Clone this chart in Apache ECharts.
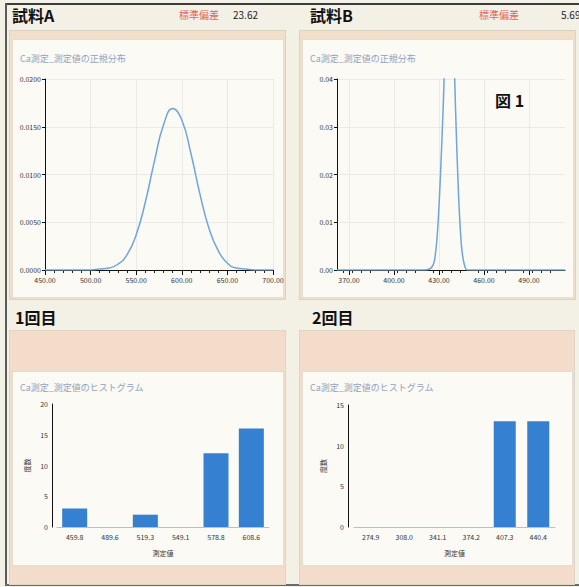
<!DOCTYPE html>
<html><head><meta charset="utf-8">
<script src="https://cdn.jsdelivr.net/npm/echarts@6/dist/echarts.min.js"></script>
<style>
html,body{margin:0;padding:0;width:579px;height:587px;overflow:hidden;background:#f3f0e6;font-family:"Noto Sans CJK JP","Noto Sans",sans-serif;}
.a{position:absolute;}
.hd{position:absolute;font-weight:bold;font-size:16px;color:#111;line-height:16px;white-space:nowrap;}
.sd{position:absolute;font-size:10px;color:#e2605c;line-height:10px;white-space:nowrap;}
.num{position:absolute;font-size:10px;color:#222;line-height:10px;white-space:nowrap;}
#chart{position:absolute;left:0;top:0;width:579px;height:587px;}
</style></head><body>
<!-- page frame -->
<div class="a" style="left:5px;top:3px;width:574px;height:2px;background:#3c3c3c"></div>
<div class="a" style="left:5px;top:3px;width:2px;height:582px;background:#5a5a5a"></div>
<div class="a" style="left:5px;top:584px;width:574px;height:2px;background:#6a6a6a"></div>
<!-- top panels -->
<div class="a" style="left:9px;top:30px;width:275px;height:268px;background:#f1dfca;border:1px solid #d9d3c6"></div>
<div class="a" style="left:12px;top:39px;width:270px;height:257px;background:#fbfaf4;border:1px solid #e2ded4"></div>
<div class="a" style="left:299px;top:30px;width:275px;height:268px;background:#f1dfca;border:1px solid #d9d3c6"></div>
<div class="a" style="left:302px;top:39px;width:270px;height:257px;background:#fbfaf4;border:1px solid #e2ded4"></div>
<!-- bottom panels -->
<div class="a" style="left:9px;top:330px;width:275px;height:253px;background:#f4dccb;border:1px solid #e0d4c6"></div>
<div class="a" style="left:12px;top:371px;width:270px;height:193px;background:#fbfaf4;border:1px solid #e2ded4"></div>
<div class="a" style="left:299px;top:330px;width:274px;height:253px;background:#f4dccb;border:1px solid #e0d4c6"></div>
<div class="a" style="left:302px;top:371px;width:269px;height:193px;background:#fbfaf4;border:1px solid #e2ded4"></div>
<!-- headers -->
<div class="hd" style="left:12px;top:7px">試料A</div>
<div class="sd" style="left:179px;top:10px">標準偏差</div>
<div class="num" style="left:233px;top:10px">23.62</div>
<div class="hd" style="left:310px;top:7px">試料B</div>
<div class="sd" style="left:479px;top:10px">標準偏差</div>
<div class="num" style="left:561px;top:10px">5.69</div>
<div class="hd" style="left:495px;top:92px">図 1</div>
<div class="hd" style="left:15px;top:309px">1回目</div>
<div class="hd" style="left:312px;top:309px">2回目</div>
<div id="chart"></div>
<script>
// ---- data ----
const titleNormal = 'Ca測定_測定値の正規分布';
const titleHist = 'Ca測定_測定値のヒストグラム';
const yNameHist = '度数';
const xNameHist = '測定値';

// Sample A normal curve (x, density)
const curveAx = [450,460,470,480,490,500,510,520,530,540,550,560,570,580,590,600,610,620,630,640,650,660,670,680,690,700];
const curveAy = [0,0,0,0,0,0,0.0001,0.0002,0.0006,0.0016,0.0037,0.0071,0.0114,0.0152,0.0169,0.0157,0.0122,0.0079,0.0043,0.0020,0.0007,0.0002,0.0001,0,0,0];
// Sample B normal curve (x, density)
const curveBx = [362,400,421,425,427,429,431,433,435,437,439,441,443,445,447,449,470,514];
const curveBy = [0,0,0,0.0005,0.002,0.008,0.02,0.036,0.056,0.07,0.056,0.034,0.016,0.005,0.001,0,0,0];
const xTicksB = [370,400,430,460,490];

// Histograms
const catsA = ['459.8','489.6','519.3','549.1','578.8','608.6'];
const countsA = [3,0,2,0,12,16];
const catsB = ['274.9','308.0','341.1','374.2','407.3','440.4'];
const countsB = [0,0,0,0,13,13];

// ---- chart ----
const FONT = '"Noto Sans CJK JP","Noto Sans",sans-serif';
const lbl = {fontSize:7, color:'#333', fontFamily:FONT};
const split = {show:true, lineStyle:{color:'#ebeae4', width:1}};
const blackLine = {show:true, lineStyle:{color:'#111', width:1}};
const chart = echarts.init(document.getElementById('chart'), null, {renderer:'svg'});
const tStyle = {fontSize:9, color:'#93a2b9', fontWeight:'normal', fontFamily:FONT};
const bars = v => v.map(n => n === 0 ? null : n);
chart.setOption({
  animation:false,
  backgroundColor:'transparent',
  title:[
    {text:titleNormal, left:20, top:54, textStyle:tStyle, padding:0},
    {text:titleNormal, left:310, top:54, textStyle:tStyle, padding:0},
    {text:titleHist, left:20, top:383, textStyle:tStyle, padding:0},
    {text:titleHist, left:310, top:383, textStyle:tStyle, padding:0}
  ],
  grid:[
    {left:45, top:79, width:228, height:191},
    {left:337, top:79, width:228, height:191},
    {left:57, top:404, width:212, height:123},
    {left:354, top:405, width:201, height:122}
  ],
  xAxis:[
    {type:'value', gridIndex:0, min:450, max:700, interval:50,
     axisLine:blackLine, axisTick:{show:true, length:5, lineStyle:{color:'#111'}},
     minorTick:{show:true, splitNumber:5, length:3, lineStyle:{color:'#222'}},
     axisLabel:Object.assign({margin:6, formatter:v=>v.toFixed(2)}, lbl), splitLine:split},
    {type:'value', gridIndex:1, min:362, max:514,
     axisLine:blackLine, axisTick:{show:true, length:5, lineStyle:{color:'#111'}, customValues:xTicksB},
     minorTick:{show:true, splitNumber:5, length:3, lineStyle:{color:'#222'}},
     axisLabel:Object.assign({margin:6, customValues:xTicksB, formatter:v=>v.toFixed(2)}, lbl), splitLine:split},
    {type:'category', gridIndex:2, data:catsA,
     axisLine:{show:true, lineStyle:{color:'#b9bdd8'}}, axisTick:{show:false},
     axisLabel:Object.assign({margin:6, interval:0}, lbl),
     name:xNameHist, nameLocation:'middle', nameGap:22, nameTextStyle:{fontSize:7, color:'#333', fontFamily:FONT}},
    {type:'category', gridIndex:3, data:catsB,
     axisLine:{show:true, lineStyle:{color:'#b9bdd8'}}, axisTick:{show:false},
     axisLabel:Object.assign({margin:6, interval:0}, lbl),
     name:xNameHist, nameLocation:'middle', nameGap:22, nameTextStyle:{fontSize:7, color:'#333', fontFamily:FONT}}
  ],
  yAxis:[
    {type:'value', gridIndex:0, min:0, max:0.02, interval:0.005,
     axisLine:blackLine, axisTick:{show:true, length:3, lineStyle:{color:'#111'}},
     axisLabel:Object.assign({margin:4, formatter:v=>v.toFixed(4)}, lbl), splitLine:split},
    {type:'value', gridIndex:1, min:0, max:0.04, interval:0.01,
     axisLine:blackLine, axisTick:{show:true, length:3, lineStyle:{color:'#111'}},
     axisLabel:Object.assign({margin:4, formatter:v=>v.toFixed(2)}, lbl), splitLine:split},
    {type:'value', gridIndex:2, min:0, max:20, interval:5, offset:5,
     axisLine:blackLine, axisTick:{show:false},
     axisLabel:Object.assign({margin:4}, lbl), splitLine:{show:false},
     name:yNameHist, nameLocation:'middle', nameGap:22, nameRotate:90, nameTextStyle:{fontSize:7, color:'#333', fontFamily:FONT}},
    {type:'value', gridIndex:3, min:0, max:15, interval:5, offset:6,
     axisLine:blackLine, axisTick:{show:false},
     axisLabel:Object.assign({margin:4}, lbl), splitLine:{show:false},
     name:yNameHist, nameLocation:'middle', nameGap:22, nameRotate:90, nameTextStyle:{fontSize:7, color:'#333', fontFamily:FONT}}
  ],
  series:[
    {type:'line', xAxisIndex:0, yAxisIndex:0, smooth:true, showSymbol:false, clip:true,
     data:curveAx.map((x,i)=>[x,curveAy[i]]), lineStyle:{color:'#6ea6db', width:1.5}},
    {type:'line', xAxisIndex:1, yAxisIndex:1, smooth:0.3, showSymbol:false, clip:true,
     data:curveBx.map((x,i)=>[x,curveBy[i]]), lineStyle:{color:'#6ea6db', width:1.5}},
    {type:'bar', xAxisIndex:2, yAxisIndex:2, data:bars(countsA), barWidth:25,
     itemStyle:{color:'#3580d0'}},
    {type:'bar', xAxisIndex:3, yAxisIndex:3, data:bars(countsB), barWidth:22,
     itemStyle:{color:'#3580d0'}}
  ]
});
</script>
</body></html>
